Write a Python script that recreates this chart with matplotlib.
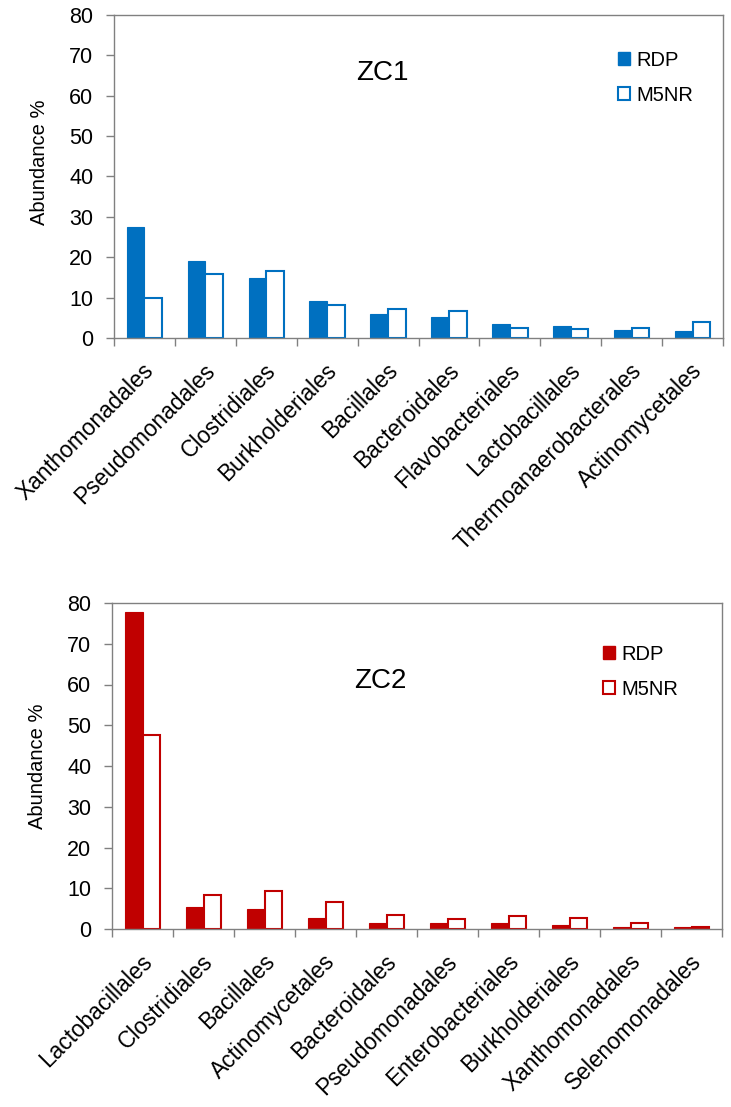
import numpy as np
import matplotlib
matplotlib.use("Agg")
import matplotlib.pyplot as plt
from matplotlib.patches import Patch

plt.rcParams['font.family'] = ['Liberation Sans', 'DejaVu Sans']

# Dati ZC1
ordini_zc1 = ["Xanthomonadales", "Pseudomonadales", "Clostridiales", "Burkholderiales",
              "Bacillales", "Bacteroidales", "Flavobacteriales", "Lactobacillales",
              "Thermoanaerobacterales", "Actinomycetales"]
rdp_zc1 = [27.4, 19.0, 14.8, 9.2, 6.0, 5.1, 3.5, 3.0, 2.0, 1.8]
m5nr_zc1 = [10.0, 15.9, 16.5, 8.2, 7.3, 6.6, 2.6, 2.2, 2.6, 3.9]

# Dati ZC2
ordini_zc2 = ["Lactobacillales", "Clostridiales", "Bacillales", "Actinomycetales",
              "Bacteroidales", "Pseudomonadales", "Enterobacteriales", "Burkholderiales",
              "Xanthomonadales", "Selenomonadales"]
rdp_zc2 = [77.8, 5.5, 5.0, 2.7, 1.5, 1.5, 1.4, 1.0, 0.6, 0.4]
m5nr_zc2 = [47.6, 8.4, 9.3, 6.7, 3.5, 2.4, 3.1, 2.8, 1.4, 0.4]

W, H = 731, 1107
fig = plt.figure(figsize=(W / 100, H / 100), dpi=100)


def pannello(rect, ordini, rdp, m5nr, colore, titolo, titolo_y, ylab_y, leg_xy):
    ax = fig.add_axes(rect)
    x = np.arange(len(ordini))
    w = 0.29
    ax.bar(x - w / 2, rdp, width=w, color=colore, edgecolor=colore, linewidth=0.8)
    ax.bar(x + w / 2, m5nr, width=w, color="white", edgecolor=colore, linewidth=1.5)

    ax.set_xlim(-0.5, len(ordini) - 0.5)
    ax.set_ylim(0, 80)
    ax.set_yticks(np.arange(0, 81, 10))
    ax.set_xticks(np.arange(len(ordini) + 1) - 0.5)
    ax.set_xticklabels([])
    ax.tick_params(axis="both", direction="out", length=6, width=1.0, color="#808080")
    ax.tick_params(axis="y", labelsize=15.5, pad=9)
    for s in ax.spines.values():
        s.set_color("#808080")
        s.set_linewidth(1.0)

    # etichette ruotate a 45 gradi sotto ogni categoria
    for i, lab in enumerate(ordini):
        ax.annotate(lab, xy=(i, 0), xycoords=("data", "axes fraction"),
                    xytext=(4.5, -21), textcoords="offset points",
                    rotation=45, ha="right", va="center", rotation_mode="anchor",
                    fontsize=16.3)

    ax.set_ylabel("Abundance %", fontsize=14.5)
    ax.yaxis.set_label_coords(-0.106, ylab_y)
    ax.text(0.44, titolo_y, titolo, transform=ax.transAxes, fontsize=20,
            ha="center", va="center")

    maniglie = [Patch(facecolor=colore, edgecolor=colore, label="RDP"),
                Patch(facecolor="white", edgecolor=colore, linewidth=1.5, label="M5NR")]
    ax.legend(handles=maniglie, loc="upper left", bbox_to_anchor=leg_xy,
              frameon=False, fontsize=14.5, handlelength=0.6, handleheight=0.6,
              handletextpad=0.3, labelspacing=0.8, borderpad=0, borderaxespad=0)
    return ax


pannello([114 / W, 1 - 338 / H, 609 / W, 323 / H], ordini_zc1, rdp_zc1, m5nr_zc1,
         "#0070C0", "ZC1", 1 - 58 / 323, 0.545, (0.828, 0.89))
pannello([112 / W, 1 - 929 / H, 610 / W, 326 / H], ordini_zc2, rdp_zc2, m5nr_zc2,
         "#C00000", "ZC2", 1 - 78 / 326, 0.5, (0.805, 0.872))

fig.savefig("out.png", dpi=100)
